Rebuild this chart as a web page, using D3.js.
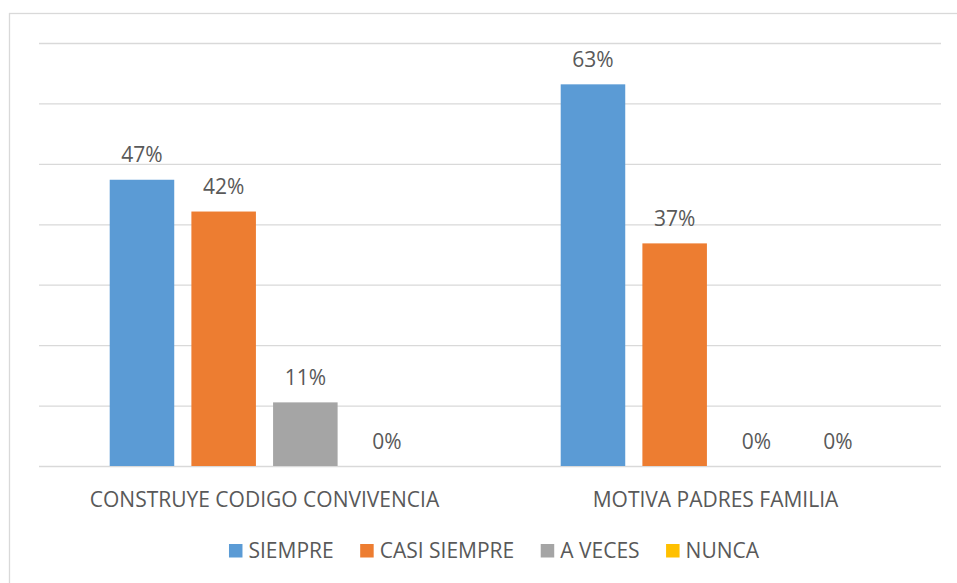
<!DOCTYPE html>
<html>
<head>
<meta charset="utf-8">
<script src="https://cdn.jsdelivr.net/npm/d3@7"></script>
<style>
  html, body { margin: 0; padding: 0; background: #fff; }
  svg { display: block; }
  text { font-family: "Open Sans", sans-serif; fill: #595959; }
</style>
</head>
<body>
<svg id="chart" width="957" height="583"></svg>
<script>
// ---- data ----
const categories = ["CONSTRUYE CODIGO CONVIVENCIA", "MOTIVA PADRES FAMILIA"];
const seriesNames = ["SIEMPRE", "CASI SIEMPRE", "A VECES", "NUNCA"];
const siempre = [47.37, 63.16];
const casiSiempre = [42.11, 36.84];
const aVeces = [10.53, 0];
const nunca = [0, 0];
const yTicks = [0, 10, 20, 30, 40, 50, 60, 70];
const colors = ["#5B9BD5", "#ED7D31", "#A5A5A5", "#FFC000"];

const seriesValues = [siempre, casiSiempre, aVeces, nunca];
const rows = [];
categories.forEach((c, ci) => {
  seriesNames.forEach((s, si) => rows.push({ cat: c, series: s, value: seriesValues[si][ci], color: colors[si] }));
});

// ---- layout ----
const svg = d3.select("#chart");
const plotL = 39, plotR = 941, plotT = 43, plotB = 466;
const fontSize = 21;

// outer border
svg.append("rect")
  .attr("x", 9.5).attr("y", 13.5)
  .attr("width", 1000).attr("height", 1000)
  .attr("fill", "none").attr("stroke", "#d9d9d9").attr("stroke-width", 1.3);

const y = d3.scaleLinear().domain([0, 70]).range([plotB, plotT]);
const x0 = d3.scaleBand().domain(categories).range([plotL, plotR]).padding(0);
const bw = x0.bandwidth();
const innerW = bw * 0.7245;
const x1 = d3.scaleBand().domain(seriesNames)
  .range([(bw - innerW) / 2, (bw + innerW) / 2])
  .paddingInner(0.21).paddingOuter(0.105);

// gridlines
const grid = svg.append("g").attr("transform", `translate(${plotL},0)`)
  .call(d3.axisLeft(y).tickValues(yTicks).tickSize(-(plotR - plotL)).tickFormat(""));
grid.select(".domain").remove();
grid.selectAll(".tick line").attr("stroke", "#d9d9d9").attr("stroke-width", 1.3);

// bars
const g = svg.append("g");
g.selectAll("rect.bar").data(rows).join("rect")
  .attr("class", "bar")
  .attr("x", d => x0(d.cat) + x1(d.series))
  .attr("y", d => y(d.value))
  .attr("width", x1.bandwidth())
  .attr("height", d => y(0) - y(d.value))
  .attr("fill", d => d.color);

// value labels
g.selectAll("text.val").data(rows).join("text")
  .attr("class", "val")
  .attr("x", d => x0(d.cat) + x1(d.series) + x1.bandwidth() / 2)
  .attr("y", d => y(d.value) - 17.5)
  .attr("text-anchor", "middle")
  .style("font-size", fontSize + "px")
  .text(d => Math.round(d.value) + "%");

// category axis labels
svg.append("g").selectAll("text").data(categories).join("text")
  .attr("x", d => x0(d) + bw / 2)
  .attr("y", 507)
  .attr("text-anchor", "middle")
  .style("font-size", fontSize + "px")
  .text(d => d);

// legend
const legend = svg.append("g");
const items = legend.selectAll("g").data(seriesNames).join("g");
items.append("rect")
  .attr("width", 13.5).attr("height", 13.5)
  .attr("y", 544)
  .attr("fill", (d, i) => colors[i]);
items.append("text")
  .attr("x", 19.5).attr("y", 558)
  .style("font-size", fontSize + "px")
  .text(d => d);
let pos = 0;
const offsets = [];
items.each(function () {
  offsets.push(pos);
  const w = d3.select(this).select("text").node().getComputedTextLength();
  pos += 19.5 + w + 26.5;
});
const total = pos - 26.5;
const startX = 494 - total / 2;
items.attr("transform", (d, i) => `translate(${startX + offsets[i]},0)`);
</script>
</body>
</html>
